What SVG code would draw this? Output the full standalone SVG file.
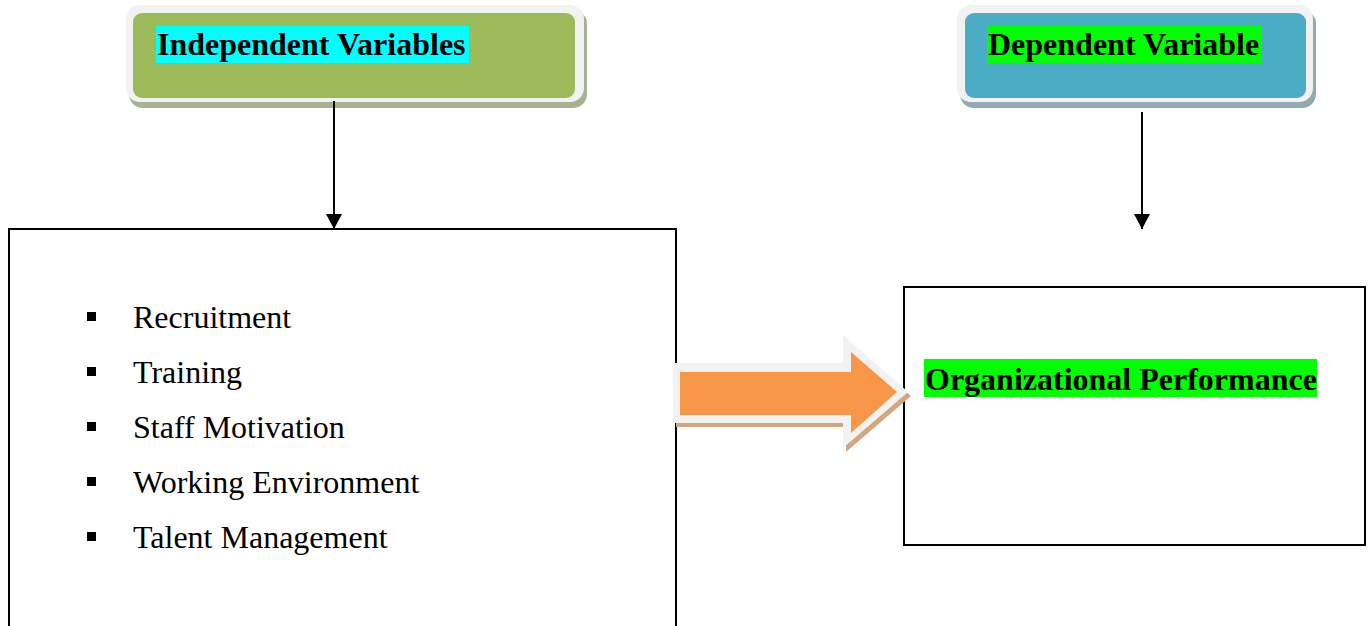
<svg xmlns="http://www.w3.org/2000/svg" width="1368" height="626" viewBox="0 0 1368 626">
<style>
.t{font-family:"Liberation Serif","Times New Roman",serif;font-size:32px;fill:#000}
.b{font-weight:bold}
.frame{fill:#f2f2f2}
.box{fill:#fff;stroke:#000;stroke-width:2}
.conn{stroke:#000;stroke-width:2;fill:none}
</style>
<defs>
<marker id="ah" markerUnits="userSpaceOnUse" markerWidth="16" markerHeight="16" refX="15" refY="8" orient="auto">
<path d="M0,0 L15,8 L0,16 Z" fill="#000"/>
</marker>
</defs>
<rect width="1368" height="626" fill="#fff"/>
<g id="independent-header">
<rect x="129" y="10" width="458" height="98" rx="14" fill="#a7b193"/>
<rect class="frame" x="126" y="5" width="458" height="97" rx="14"/>
<rect x="133" y="13" width="442" height="85" rx="9" fill="#9bbb59"/>
<rect x="156" y="26" width="313" height="37" fill="#00ffff"/>
<text class="t b" x="157" y="55">Independent Variables</text>
</g>
<g id="dependent-header">
<rect x="960" y="10" width="356" height="98" rx="14" fill="#93a9b3"/>
<rect class="frame" x="957" y="5" width="356" height="97" rx="14"/>
<rect x="965" y="13" width="341" height="85" rx="9" fill="#4bacc6"/>
<rect x="987" y="26" width="275" height="37" fill="#00ff00"/>
<text class="t b" x="988" y="55">Dependent Variable</text>
</g>
<g id="factors-box">
<rect class="box" x="9" y="229" width="667" height="420"/>
<g fill="#000">
<rect x="87" y="312" width="9" height="9"/>
<rect x="87" y="367" width="9" height="9"/>
<rect x="87" y="422" width="9" height="9"/>
<rect x="87" y="477" width="9" height="9"/>
<rect x="87" y="532" width="9" height="9"/>
</g>
<text class="t" x="133" y="328">Recruitment</text>
<text class="t" x="133" y="383">Training</text>
<text class="t" x="133" y="438">Staff Motivation</text>
<text class="t" x="133" y="493">Working Environment</text>
<text class="t" x="133" y="548">Talent Management</text>
</g>
<g id="performance-box">
<rect class="box" x="904" y="287" width="461" height="258"/>
<rect x="924" y="359" width="393" height="38" fill="#00ff00"/>
<text class="t b" x="925" y="390">Organizational Performance</text>
</g>
<g id="connectors">
<line class="conn" x1="334" y1="101" x2="334" y2="229" marker-end="url(#ah)"/>
<line class="conn" x1="1142" y1="112" x2="1142" y2="229" marker-end="url(#ah)"/>
<g id="block-arrow">
<polygon points="676,367 846,367 846,339 911,396 846,452 846,427 676,427" fill="#d3a680"/>
<polygon points="673,363 843,363 843,335 908,392 843,448 843,423 673,423" fill="#f2f2f2"/>
<polygon points="680,372 851,372 851,352 897,392 851,433 851,415 680,415" fill="#f79646"/>
</g>
</g>
</svg>
